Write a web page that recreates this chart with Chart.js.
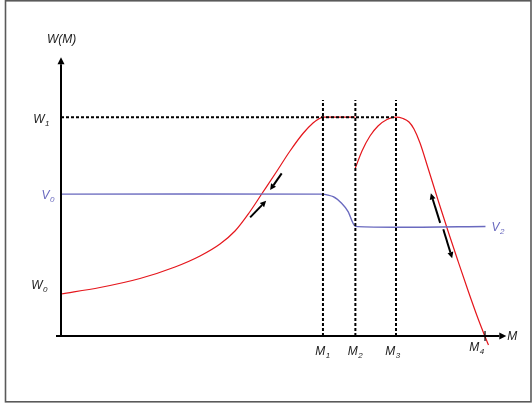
<!DOCTYPE html>
<html>
<head>
<meta charset="utf-8">
<script src="https://cdn.jsdelivr.net/npm/chart.js@4/dist/chart.umd.min.js"></script>
<style>
  html, body { margin: 0; padding: 0; background: #fff; }
  #wrap { width: 532px; height: 405px; position: relative; }
</style>
</head>
<body>
<div id="wrap"><canvas id="c" width="532" height="405"></canvas></div>
<script>
// Characteristic levels and market positions
const levelW0 = 15.2;
const levelW1 = 79.3;
const levelV0 = 51.4;
const levelV2 = 39.7;
const markM = [59.0, 66.3, 75.45, 95.5];
const markNames = ['1', '2', '3', '4'];
const guideTop = 85.5;

// W(M): rising branch up to M2
const riseM = [0, 8.78, 17.79, 25.68, 31.31, 35.81, 39.19, 42.34, 45.27, 48.42, 51.58, 54.5, 56.76, 58.11, 59.0, 66.3];
const riseW = [15.22, 17.57, 20.83, 25.0, 28.99, 33.33, 38.04, 44.57, 51.63, 59.24, 67.03, 73.37, 77.17, 78.7, 79.3, 79.3];

// W(M): second branch from M2 down past M4
const fallM = [66.3, 67.79, 69.59, 71.4, 73.42, 75.45, 77.03, 78.38, 79.5, 80.86, 82.66, 84.91, 87.16, 89.41, 91.67, 93.92, 95.5, 96.28];
const fallW = [60.87, 67.03, 72.46, 76.09, 78.44, 79.3, 78.8, 77.54, 75.0, 69.93, 60.87, 49.28, 38.04, 27.17, 16.49, 6.34, -0.18, -3.26];

// V level: V0 until M1, falls to V2 at M2
const vM = [0, 59.0, 61.3, 63.2, 64.7, 66.3, 95.6];
const vW = [51.4, 51.4, 50.5, 48.1, 45.0, 39.7, 39.7];

// Direction arrows (from -> to, head at "to")
const arrowFromM = [42.6, 49.7, 85.4, 86.1];
const arrowFromW = [43.0, 58.9, 41.0, 38.7];
const arrowToM = [46.2, 47.1, 83.3, 88.1];
const arrowToW = [49.0, 52.9, 51.7, 28.2];

const RED = '#e5161c';
const BLUE = '#6a6abf';
const FONT = '"Liberation Sans", Arial, sans-serif';

const pts = (xs, ys) => xs.map((x, i) => ({ x: x, y: ys[i] }));

const guideSets = markM.slice(0, 3).map(m => ({
  data: [{ x: m, y: 0 }, { x: m, y: guideTop }],
  borderColor: '#000', borderWidth: 2, borderDash: [3, 2],
  pointRadius: 0, tension: 0, clip: false
}));

function drawArrow(ctx, x1, y1, x2, y2, lw, hl, hw) {
  const a = Math.atan2(y2 - y1, x2 - x1);
  const bx = x2 - hl * Math.cos(a), by = y2 - hl * Math.sin(a);
  ctx.beginPath();
  ctx.moveTo(x1, y1); ctx.lineTo(bx, by);
  ctx.lineWidth = lw; ctx.strokeStyle = '#000'; ctx.stroke();
  ctx.beginPath();
  ctx.moveTo(x2, y2);
  ctx.lineTo(bx + hw * Math.sin(a), by - hw * Math.cos(a));
  ctx.lineTo(bx - hw * Math.sin(a), by + hw * Math.cos(a));
  ctx.closePath(); ctx.fillStyle = '#000'; ctx.fill();
}

function drawLabel(ctx, main, sub, x, y, color, align) {
  ctx.save();
  ctx.fillStyle = color;
  ctx.textBaseline = 'middle';
  ctx.font = 'italic 12px ' + FONT;
  const w1 = ctx.measureText(main).width;
  ctx.font = 'italic 8px ' + FONT;
  const w2 = sub ? ctx.measureText(sub).width + 1 : 0;
  let x0 = x;
  if (align === 'right') x0 = x - w1 - w2;
  else if (align === 'center') x0 = x - (w1 + w2) / 2;
  ctx.font = 'italic 12px ' + FONT;
  ctx.textAlign = 'left';
  ctx.fillText(main, x0, y);
  if (sub) {
    ctx.font = 'italic 8px ' + FONT;
    ctx.fillText(sub, x0 + w1 + 0.5, y + 4);
  }
  ctx.restore();
}

const decor = {
  id: 'decor',
  beforeDraw(chart) {
    const ctx = chart.ctx;
    ctx.save();
    ctx.fillStyle = '#fff';
    ctx.fillRect(0, 0, chart.width, chart.height);
    ctx.strokeStyle = '#5a5a5a';
    ctx.lineWidth = 1.6;
    ctx.strokeRect(5.5, 0.8, 525.5, 401);
    ctx.restore();
  },
  afterDatasetsDraw(chart) {
    const ctx = chart.ctx;
    const xs = chart.scales.x, ys = chart.scales.y;
    const px = v => xs.getPixelForValue(v), py = v => ys.getPixelForValue(v);
    const x0 = px(0), y0 = py(0);
    ctx.save();
    // axes with arrow heads
    drawArrow(ctx, x0, y0 + 1, x0, py(101), 2, 7, 3.5);
    drawArrow(ctx, x0 - 5, y0, px(100.3), y0, 2, 7, 3.5);
    // tick at M4
    ctx.beginPath();
    ctx.moveTo(px(markM[3]), y0 - 5); ctx.lineTo(px(markM[3]), y0 + 5);
    ctx.lineWidth = 1.2; ctx.strokeStyle = '#000'; ctx.stroke();
    // direction arrows along the curve
    for (let i = 0; i < arrowFromM.length; i++) {
      drawArrow(ctx, px(arrowFromM[i]), py(arrowFromW[i]), px(arrowToM[i]), py(arrowToW[i]), 2, 6, 3);
    }
    // labels
    drawLabel(ctx, 'W(M)', '', x0 - 14, py(100) - 20, '#222', 'left');
    drawLabel(ctx, 'W', '1', x0 - 11, py(levelW1) + 3, '#222', 'right');
    drawLabel(ctx, 'V', '0', x0 - 6, py(levelV0) + 2, BLUE, 'right');
    drawLabel(ctx, 'W', '0', x0 - 13, py(levelW0) - 8, '#222', 'right');
    drawLabel(ctx, 'V', '2', px(vM[vM.length - 1]) + 6, py(levelV2) + 1, BLUE, 'left');
    drawLabel(ctx, 'M', '', px(100.3) + 1, y0 + 1, '#222', 'left');
    const offs = [0, 0, -3, -8];
    const dy = [16, 16, 16, 12];
    markM.forEach((m, i) => drawLabel(ctx, 'M', markNames[i], px(m) + offs[i], y0 + dy[i], '#222', 'center'));
    ctx.restore();
  }
};

new Chart(document.getElementById('c'), {
  type: 'line',
  data: {
    datasets: [
      {
        data: [{ x: 0, y: levelW1 }, { x: markM[2], y: levelW1 }],
        borderColor: '#000', borderWidth: 2, borderDash: [3, 2],
        pointRadius: 0, tension: 0
      },
      ...guideSets,
      {
        data: pts(vM, vW),
        borderColor: BLUE, borderWidth: 1.4, pointRadius: 0, tension: 0.15
      },
      {
        data: pts(riseM, riseW),
        borderColor: RED, borderWidth: 1.2, pointRadius: 0,
        cubicInterpolationMode: 'monotone'
      },
      {
        data: pts(fallM, fallW),
        borderColor: RED, borderWidth: 1.2, pointRadius: 0,
        cubicInterpolationMode: 'monotone', clip: false
      }
    ]
  },
  options: {
    responsive: false,
    animation: false,
    devicePixelRatio: 1,
    layout: { padding: { left: 61, right: 27, top: 60, bottom: 69 } },
    plugins: { legend: { display: false }, tooltip: { enabled: false } },
    scales: {
      x: { type: 'linear', min: 0, max: 100, display: false },
      y: { type: 'linear', min: 0, max: 100, display: false }
    }
  },
  plugins: [decor]
});
</script>
</body>
</html>
